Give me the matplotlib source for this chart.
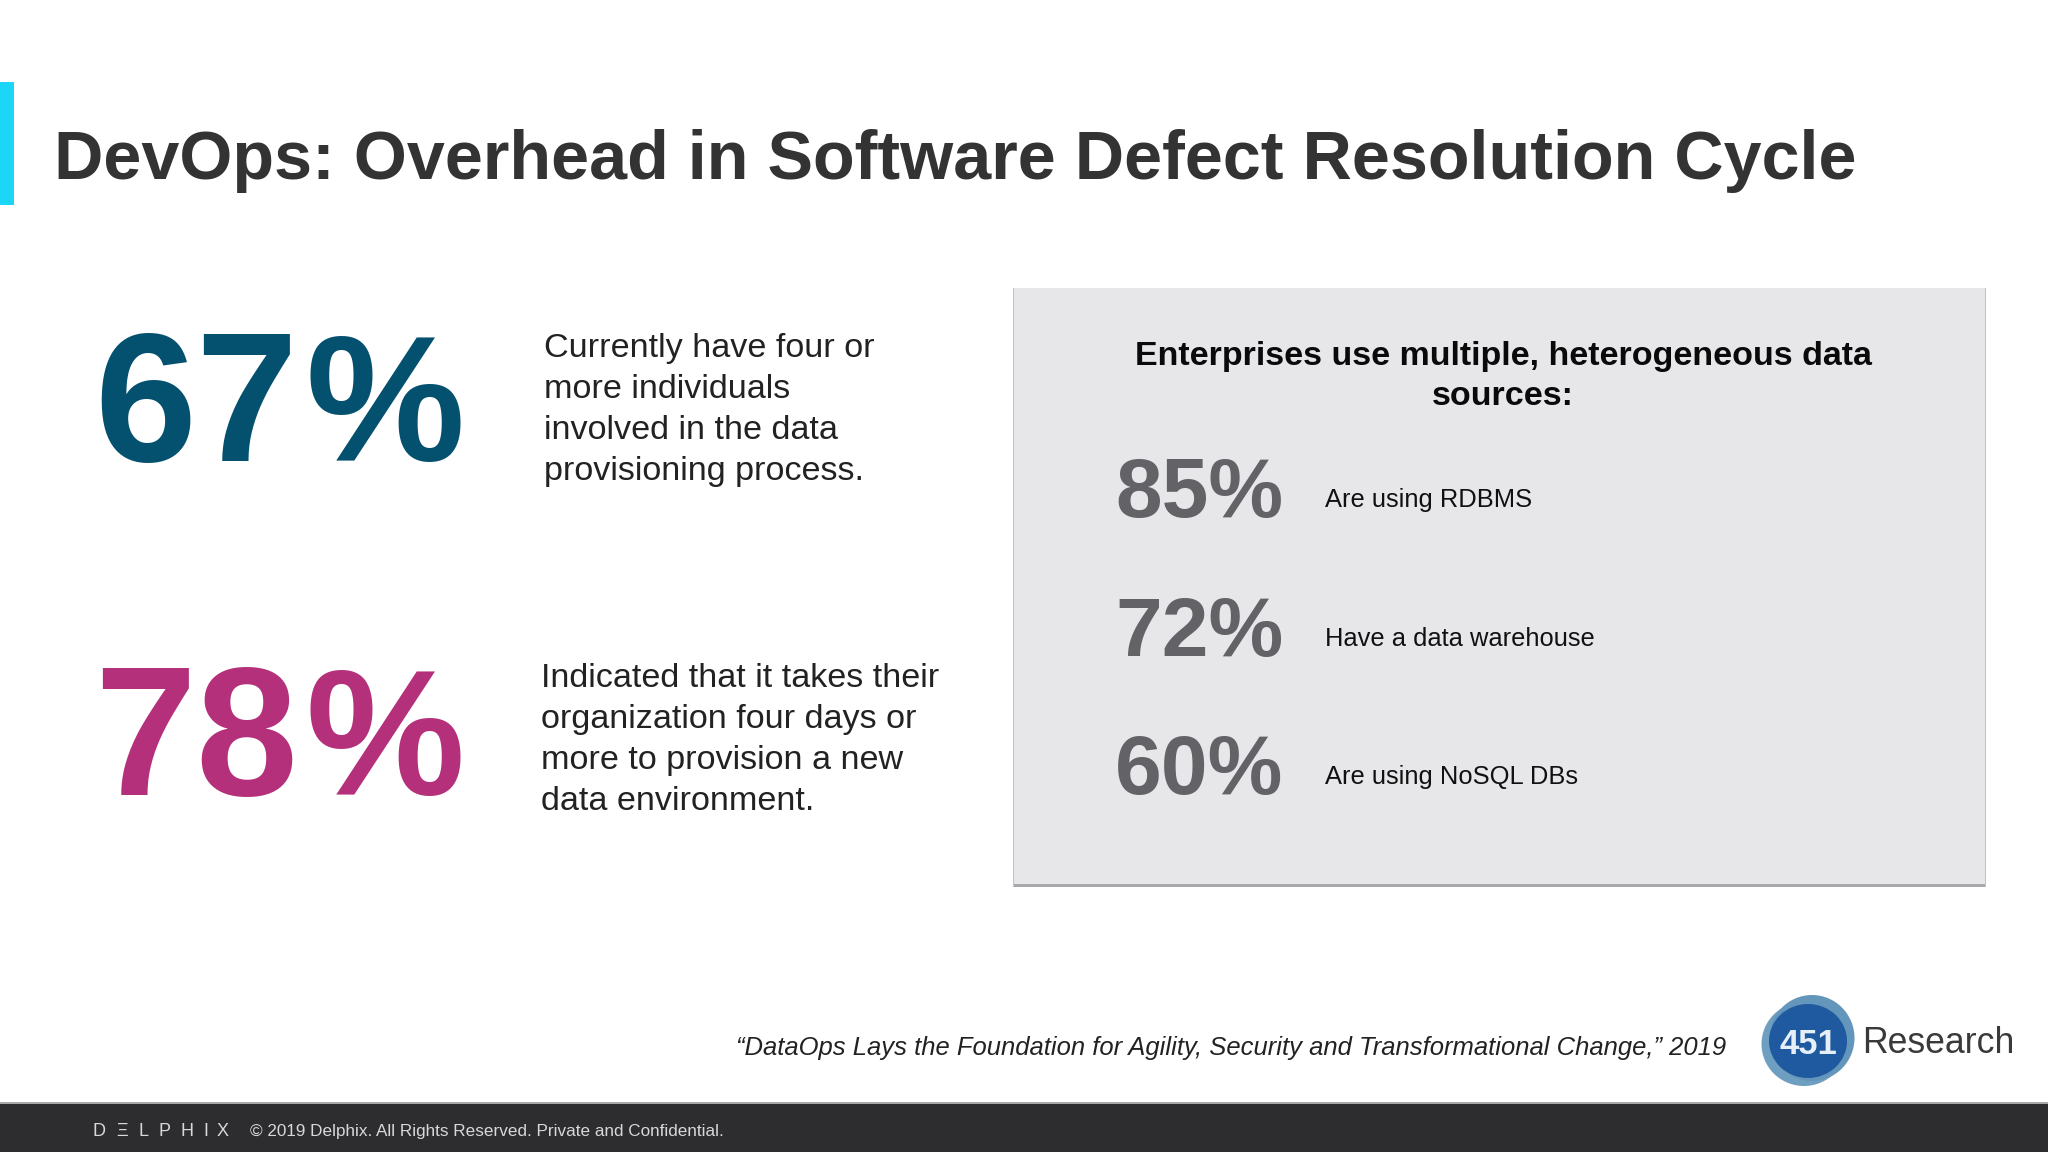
import matplotlib
matplotlib.use("Agg")
import matplotlib.pyplot as plt
from matplotlib.patches import Rectangle, Ellipse

plt.rcParams['font.family'] = ['Liberation Sans', 'DejaVu Sans']

title = "DevOps: Overhead in Software Defect Resolution Cycle"
left_values = ["67%", "78%"]
left_colors = ["#03506f", "#b5307b"]
left_notes = [
    ["Currently have four or", "more individuals", "involved in the data", "provisioning process."],
    ["Indicated that it takes their", "organization four days or", "more to provision a new", "data environment."],
]
panel_title = ["Enterprises use multiple, heterogeneous data", "sources:"]
panel_values = ["85%", "72%", "60%"]
panel_labels = ["Are using RDBMS", "Have a data warehouse", "Are using NoSQL DBs"]
source = "\u201cDataOps Lays the Foundation for Agility, Security and Transformational Change,\u201d 2019"
footer = "\u00a9 2019 Delphix. All Rights Reserved. Private and Confidential."
brand = ["D", "\u039e", "L", "P", "H", "I", "X"]

fig = plt.figure(figsize=(20.48, 11.52), dpi=100)
ax = fig.add_axes([0, 0, 1, 1])
ax.set_xlim(0, 2048)
ax.set_ylim(1152, 0)
ax.axis("off")

# accent bar and title
ax.add_patch(Rectangle((0, 82), 14, 123, color="#1cd6f7", lw=0))
ax.text(54, 179, title, fontsize=49.12, fontweight="bold", color="#333333", va="baseline")

# left stats, the percent sign sits a bit further out than the font spacing
left_base = [461, 795]
note_x = [544, 541]
note_top = [357, 687]
for i in range(2):
    ax.text(94, left_base[i], left_values[i][:-1], fontsize=132, fontweight="bold",
            color=left_colors[i], va="baseline")
    ax.text(305, left_base[i], left_values[i][-1], fontsize=129, fontweight="bold",
            color=left_colors[i], va="baseline")
    for j, line in enumerate(left_notes[i]):
        ax.text(note_x[i], note_top[i] + j * 41, line, fontsize=24.6, color="#222222", va="baseline")

# grey panel
ax.add_patch(Rectangle((1013, 288), 973, 599, color="#c2c2c6", lw=0))
ax.add_patch(Rectangle((1014, 288), 971, 596, color="#e7e7ea", lw=0))
ax.add_patch(Rectangle((1014, 884), 971, 3, color="#a9a9ad", lw=0))
ax.text(1503, 365, panel_title[0], fontsize=24.5, fontweight="bold", color="#0a0a0a",
        ha="center", va="baseline")
ax.text(1503, 405, panel_title[1], fontsize=24.5, fontweight="bold", color="#0a0a0a",
        ha="center", va="baseline")

panel_base = [517, 656, 794]
label_base = [507, 646, 784]
for i in range(3):
    ax.text(1115, panel_base[i], panel_values[i], fontsize=60.5, fontweight="bold",
            color="#636266", va="baseline")
    ax.text(1325, label_base[i], panel_labels[i], fontsize=18.4, color="#111111", va="baseline")

# source line and logo
ax.text(1726, 1055, source, fontsize=18.45, style="italic", color="#222222", ha="right", va="baseline")
ax.add_patch(Ellipse((1804, 1044), 85, 84, color="#6f9fc0", lw=0))
ax.add_patch(Ellipse((1812, 1038), 85, 86, color="#6396ba", lw=0))
ax.add_patch(Ellipse((1808, 1041), 78, 74, color="#1f5aa0", lw=0))
ax.text(1808, 1054, "451", fontsize=25, fontweight="bold", color="#e6eff8", ha="center", va="baseline")
ax.text(1862, 1053, "Research", fontsize=25.7, color="#3a3a3a", va="baseline")

# footer band
ax.add_patch(Rectangle((0, 1102), 2048, 50, color="#2d2c2f", lw=0))
ax.add_patch(Rectangle((0, 1102), 2048, 1.5, color="#a8a8aa", lw=0))
brand_x = [93, 116, 138, 159, 180, 203, 217]
for x, ch in zip(brand_x, brand):
    ax.text(x, 1136, ch, fontsize=13, color="#d8d8d8", va="baseline")
ax.text(250, 1136, footer, fontsize=12.3, color="#d8d8d8", va="baseline")

fig.savefig("out.png", dpi=100)
